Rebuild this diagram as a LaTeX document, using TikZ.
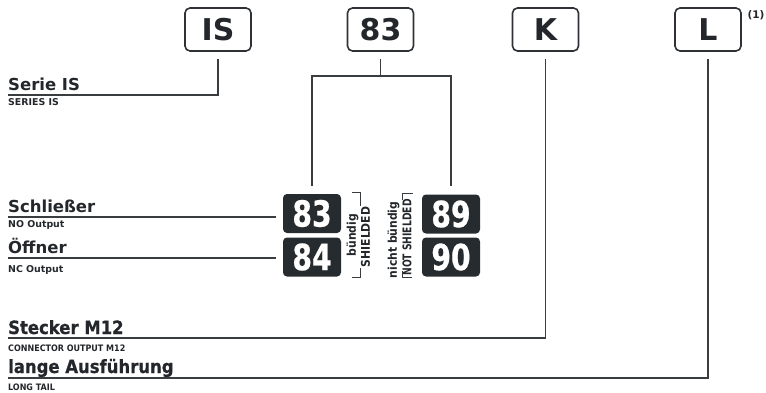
\documentclass[tikz,border=0pt]{standalone}
\usepackage{fontspec}
\usepackage{graphicx}
\usetikzlibrary{calc}
\setmainfont{DejaVu Sans}
\newfontfamily\cfont{DejaVu Sans Condensed Bold}
\newfontfamily\cfontb[FakeBold=0.6]{DejaVu Sans Condensed Bold}
\newfontfamily\nfont[FakeStretch=0.87,FakeBold=0.6]{DejaVu Sans Condensed Bold}
\definecolor{txt}{HTML}{23272B}
\definecolor{dark}{HTML}{262B30}
\definecolor{linec}{HTML}{3A3D40}
\definecolor{boxline}{HTML}{2E3236}
\begin{document}
\begin{tikzpicture}[x=1pt,y=-1pt,
  lbl/.style={anchor=base west,inner sep=0,text=txt},
  big/.style={lbl,font=\bfseries\fontsize{16.5}{18}\selectfont},
  small/.style={lbl,font=\bfseries\fontsize{9.4}{10}\selectfont},
  cbig/.style={lbl,font=\cfontb\fontsize{18.3}{19}\selectfont},
  csmall/.style={lbl,font=\cfont\fontsize{8.9}{10}\selectfont},
  codebox/.style={draw=boxline,line width=1.6pt,rounded corners=5pt,minimum width=66pt,minimum height=43pt,inner sep=0,font=\bfseries\fontsize{30}{30}\selectfont,text=txt},
  darkbox/.style={fill=dark,rounded corners=4pt,minimum width=58pt,minimum height=39pt,inner sep=0,text=white,font=\nfont\fontsize{36}{36}\selectfont},
  conn/.style={draw=linec,line width=1.3pt},
  brk/.style={draw=linec,line width=1pt},
  rot/.style={rotate=90,inner sep=0,text=txt,font=\cfont\fontsize{12}{12}\selectfont},
]
\useasboundingbox (0,0) rectangle (766,393);
% code boxes
\node[codebox] (is) at (218,29.5) {IS};
\node[codebox] (c83) at (380.5,29.5) {83};
\node[codebox] (k) at (545.5,29.5) {K};
\node[codebox] (l) at (708,29.5) {L};
\node[inner sep=0,text=txt,font=\bfseries\fontsize{10.5}{11}\selectfont] (fn) at (756,15) {(1)};
% dark boxes
\node[darkbox] (d83) at (312,213.5) {83};
\node[darkbox] (d84) at (312,257) {84};
\node[darkbox] (d89) at (451,214) {89};
\node[darkbox] (d90) at (451,257) {90};
% rotated labels
\node[rot] (bu) at (352.5,235) {bündig};
\node[rot] (sh) at (365.5,237) {SHIELDED};
\node[rot] (nbu) at (393.5,240) {nicht bündig};
\node[rot] (nsh) at (407,237.5) {\scalebox{0.85}[1]{NOT SHIELDED}};
\draw[brk] (352,192) -- (360,192) -- (360,206);
\draw[brk] (360,268) -- (360,277) -- (352,277);
\draw[brk] (413,193) -- (402,193) -- (402,200);
\draw[brk] (402,271) -- (402,277) -- (412,277);
% text labels
\node[big] (serie) at (8,91) {Serie IS};
\node[small] (series) at (8,106) {SERIES IS};
\node[big] (schl) at (8,212) {Schließer};
\node[small] (noout) at (8,227) {NO Output};
\node[big] (offn) at (8,253) {Öffner};
\node[small] (ncout) at (8,272) {NC Output};
\node[cbig] (stk) at (8,334) {Stecker M12};
\node[csmall] (conout) at (8,351) {CONNECTOR OUTPUT M12};
\node[cbig] (lang) at (8,373) {lange Ausführung};
\node[csmall] (ltail) at (8,390) {LONG TAIL};
% connector end points
\coordinate (e1) at (8,95);
\coordinate (e3) at (8,217);
\coordinate (e4) at (8,258);
\coordinate (e5) at (8,338);
\coordinate (e6) at (8,378);
\coordinate (fork) at (380.5,76);
% connectors
\draw[conn] ([yshift=-7pt]is.south) |- (e1);
\draw[conn] ([yshift=-7pt]c83.south) -- (fork);
\draw[conn] ([yshift=8pt]d83.north) |- (fork) -| ([yshift=8pt]d89.north);
\draw[conn] (e3) -- ([xshift=-7pt]d83.west |- e3);
\draw[conn] (e4) -- ([xshift=-7pt]d84.west |- e4);
\draw[conn] ([yshift=-7pt]k.south) |- (e5);
\draw[conn] ([yshift=-7pt]l.south) |- (e6);
\end{tikzpicture}
\end{document}
